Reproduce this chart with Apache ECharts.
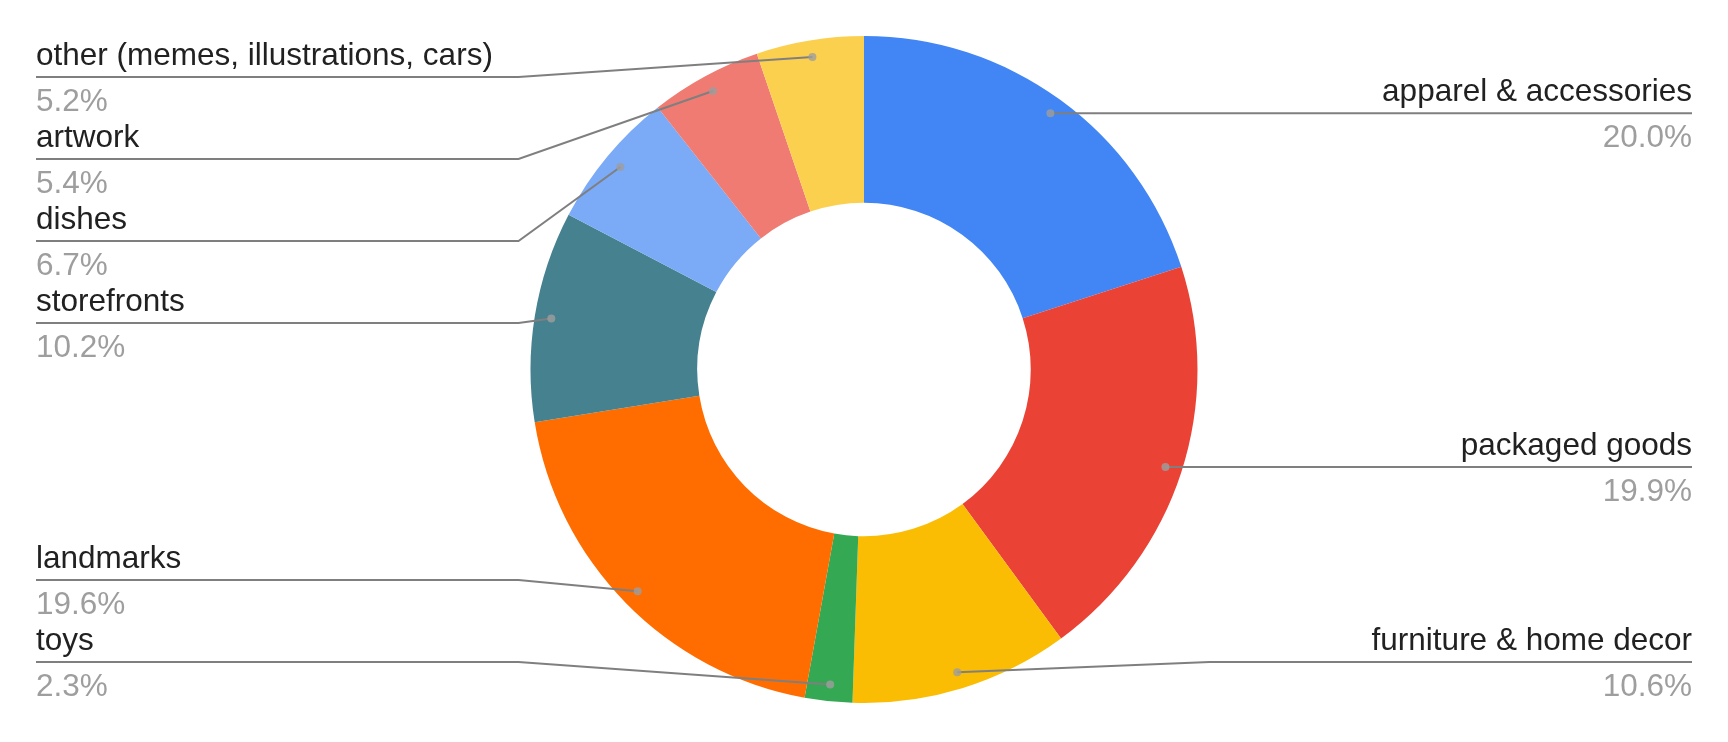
<!DOCTYPE html>
<html>
<head>
<meta charset="utf-8">
<script src="https://cdn.jsdelivr.net/npm/echarts@6/dist/echarts.min.js"></script>
<style>
html,body{margin:0;padding:0;background:#ffffff;}
#chart{width:1728px;height:742px;}
</style>
</head>
<body>
<div id="chart"></div>
<script>
// ---- data ----
const categories = [
  'apparel & accessories',
  'packaged goods',
  'furniture & home decor',
  'toys',
  'landmarks',
  'storefronts',
  'dishes',
  'artwork',
  'other (memes, illustrations, cars)'
];
const shares = [20.0, 19.9, 10.6, 2.3, 19.6, 10.2, 6.7, 5.4, 5.2];
const colors = ['#4285f4', '#ea4335', '#fbbc04', '#34a853', '#ff6d01', '#45818e', '#7baaf7', '#f07b72', '#fcd04f'];

// ---- layout ----
const chart = echarts.init(document.getElementById('chart'), null, { renderer: 'canvas' });
const W = chart.getWidth(), H = chart.getHeight();
const TOP = 36, BOTTOM = 39;
const R = (H - TOP - BOTTOM) / 2;
const CY = TOP + R;
const CX = W / 2;
const DOT_FRAC = 0.95;
const BEND = R + 12;
const LABEL_ROW = 41;
const LABEL_H = LABEL_ROW * 2;
const FONT = '"Liberation Sans", Arial, sans-serif';

const total = shares.reduce((a, b) => a + b, 0);
const mids = [];
let acc = 0;
shares.forEach(v => { mids.push(acc + v / 2); acc += v; });

// Google-style label placement: start at the anchor height, pack within the pie's vertical extent
const labelCenterY = new Array(shares.length);
(function () {
  const left = [], right = [];
  mids.forEach((m, i) => {
    const a = m / total * Math.PI * 2;
    const item = { i: i, want: CY - R * DOT_FRAC * Math.cos(a) };
    (Math.sin(a) < 0 ? left : right).push(item);
  });
  [left, right].forEach(list => {
    list.sort((a, b) => a.want - b.want);
    let pos = TOP;
    list.forEach(it => { it.top = Math.max(it.want - LABEL_H / 2, pos); pos = it.top + LABEL_H; });
    let lim = H - BOTTOM;
    for (let k = list.length - 1; k >= 0; k--) {
      const it = list[k];
      if (it.top + LABEL_H > lim) { it.top = lim - LABEL_H; }
      lim = it.top;
    }
    list.forEach(it => { labelCenterY[it.i] = it.top + LABEL_H / 2; });
  });
})();

const pieData = categories.map((name, i) => ({ name: name, value: shares[i], itemStyle: { color: colors[i] } }));
const labelData = categories.map((name, i) => ({ name: name, value: shares[i] }));

const option = {
  backgroundColor: '#ffffff',
  animation: false,
  polar: { center: [CX, CY], radius: R },
  angleAxis: { type: 'value', min: 0, max: total, startAngle: 90, clockwise: true, show: false },
  radiusAxis: { type: 'value', min: 0, max: 1, show: false },
  series: [
    {
      type: 'pie',
      top: TOP, bottom: BOTTOM, left: 0, right: 0,
      center: ['50%', '50%'],
      radius: ['50%', '100%'],
      startAngle: 90,
      clockwise: true,
      silent: true,
      z: 2,
      emphasis: { disabled: true },
      label: { show: false },
      labelLine: { show: false },
      itemStyle: { borderWidth: 0 },
      data: pieData
    },
    {
      type: 'pie',
      top: TOP, bottom: BOTTOM, left: 0, right: 0,
      center: ['50%', '50%'],
      radius: [0, (DOT_FRAC * 100) + '%'],
      startAngle: 90,
      clockwise: true,
      silent: true,
      z: 3,
      emphasis: { disabled: true },
      avoidLabelOverlap: true,
      itemStyle: { color: 'rgba(0,0,0,0)', borderWidth: 0 },
      label: {
        show: true,
        position: 'outside',
        alignTo: 'edge',
        edgeDistance: 36,
        distanceToLabelLine: 0,
        minMargin: 0,
        fontFamily: FONT,
        fontSize: 31.5,
        lineHeight: LABEL_ROW,
        formatter: p => '{n|' + p.name + '}\n{p|' + p.value.toFixed(1) + '%}',
        rich: {
          n: { fontFamily: FONT, fontSize: 31.5, lineHeight: LABEL_ROW, color: '#212121', verticalAlign: 'middle' },
          p: { fontFamily: FONT, fontSize: 31.5, lineHeight: LABEL_ROW, color: '#9e9e9e', verticalAlign: 'bottom' }
        }
      },
      labelLine: {
        show: true,
        length: 0,
        length2: 0,
        smooth: false,
        lineStyle: { color: '#7f7f7f', width: 2 }
      },
      labelLayout: function (params) {
        const rect = params.labelRect;
        const pts = params.labelLinePoints;
        if (!pts) { return {}; }
        const isLeft = rect.x + rect.width / 2 < CX;
        const y = labelCenterY[params.dataIndex];
        return {
          y: y,
          labelLinePoints: [
            pts[0],
            [isLeft ? CX - BEND : CX + BEND, y],
            [isLeft ? rect.x : rect.x + rect.width, y]
          ]
        };
      },
      data: labelData
    },
    {
      type: 'scatter',
      coordinateSystem: 'polar',
      silent: true,
      z: 5,
      symbol: 'circle',
      symbolSize: 8,
      itemStyle: { color: '#9e9e9e' },
      data: mids.map(m => [DOT_FRAC, m])
    }
  ]
};
chart.setOption(option);
</script>
</body>
</html>
